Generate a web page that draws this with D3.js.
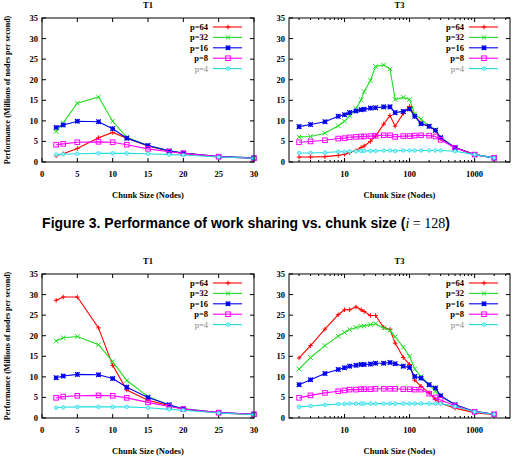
<!DOCTYPE html>
<html>
<head>
<meta charset="utf-8">
<script src="https://cdn.jsdelivr.net/npm/d3@7"></script>
<style>
  body { margin: 0; background: #fff; }
  svg { display: block; }
  .tick-label { font-family: "Liberation Serif", serif; font-size: 8.5px; font-weight: bold; fill: #000; }
  .axis-title { font-family: "Liberation Serif", serif; font-size: 8.5px; font-weight: bold; fill: #000; }
  .caption { font-family: "Liberation Sans", Arial, sans-serif; font-size: 14px; font-weight: bold; fill: #000; }
</style>
</head>
<body>
<div id="app"></div>
<script>
'use strict'

// series names, in legend order
const seriesLabels = ['p=64', 'p=32', 'p=16', 'p=8', 'p=4'];
const seriesColors = ['#ff0000', '#22dd22', '#0000ee', '#ff00ff', '#22dddd'];

// chunk sizes used by the two trees
const t1Chunks = [2, 3, 5, 8, 10, 12, 15, 18, 20, 25, 30];
const t3Chunks = [2, 3, 5, 8, 10, 12, 15, 18, 20, 25, 30, 40, 50, 60, 80, 100,
                  120, 150, 200, 250, 300, 500, 1000, 2000];

const yTicks = [0, 5, 10, 15, 20, 25, 30, 35];
const t1Ticks = [0, 5, 10, 15, 20, 25, 30];
const t3Ticks = [10, 100, 1000];

// upper row: work sharing, one row of values per series (p=64 .. p=4)
const upperT1 = [
  [1.5, 2.0, 3.3, 5.9, 7.2, 5.8, 3.9, 2.6, 2.1, 1.2, 0.9],
  [7.4, 9.5, 14.3, 15.8, 9.9, 6.0, 4.0, 2.7, 2.2, 1.3, 1.0],
  [8.4, 9.0, 9.9, 9.8, 8.1, 5.8, 4.0, 2.7, 2.2, 1.3, 1.0],
  [4.2, 4.4, 4.8, 4.9, 4.8, 4.2, 3.2, 2.5, 2.1, 1.3, 0.9],
  [1.8, 1.9, 2.0, 2.1, 2.1, 2.1, 2.0, 1.8, 1.7, 1.2, 0.9]
];
const upperT3 = [
  [1.2, 1.2, 1.3, 1.6, 1.9, 2.3, 2.8, 3.5, 3.9, 5.0, 6.3, 9.2, 11.3, 8.7, 11.8, 13.5,
   11.2, 9.5, 8.6, 7.7, 5.8, 3.5, 1.8, 1.0],
  [6.1, 6.2, 7.0, 8.8, 9.9, 11.2, 13.0, 15.1, 17.1, 19.8, 23.2, 23.6, 22.6, 15.2, 15.7, 15.2,
   11.7, 10.4, 8.7, 7.8, 6.0, 3.5, 1.8, 1.0],
  [8.6, 9.1, 9.8, 11.1, 11.5, 12.0, 12.4, 12.7, 12.8, 13.1, 13.2, 13.4, 13.4, 12.0, 12.3, 12.9,
   11.1, 9.3, 8.7, 7.7, 5.9, 3.5, 1.8, 1.0],
  [4.8, 5.0, 5.3, 5.7, 5.8, 6.0, 6.1, 6.2, 6.2, 6.3, 6.4, 6.5, 6.5, 6.1, 6.3, 6.3,
   6.4, 6.5, 6.4, 6.2, 5.4, 3.4, 1.8, 1.0],
  [2.2, 2.2, 2.3, 2.5, 2.5, 2.6, 2.6, 2.7, 2.7, 2.7, 2.7, 2.8, 2.8, 2.7, 2.8, 2.8,
   2.8, 2.8, 2.8, 2.8, 2.8, 2.6, 1.8, 1.0]
];

// lower row
const lowerT1 = [
  [28.6, 29.4, 29.4, 21.9, 12.8, 6.8, 4.3, 3.0, 2.2, 1.2, 0.8],
  [18.7, 19.5, 19.8, 17.8, 13.7, 9.1, 5.2, 3.1, 2.3, 1.3, 0.9],
  [9.8, 10.2, 10.6, 10.5, 9.6, 7.5, 5.0, 3.2, 2.2, 1.3, 0.9],
  [4.9, 5.2, 5.4, 5.5, 5.4, 4.9, 3.8, 2.8, 2.2, 1.3, 0.9],
  [2.5, 2.6, 2.7, 2.7, 2.7, 2.7, 2.5, 2.1, 1.9, 1.2, 0.8]
];
const lowerT3 = [
  [14.6, 17.6, 21.6, 25.1, 26.3, 26.3, 27.0, 26.3, 25.9, 24.9, 24.9, 22.0, 21.5, 18.2, 14.7, 13.0,
   9.2, 7.7, 6.1, 4.5, 3.6, 2.4, 1.3, 0.8],
  [11.9, 14.7, 17.6, 19.9, 20.8, 21.5, 22.0, 22.3, 22.4, 22.7, 22.9, 21.9, 21.3, 19.7, 17.2, 15.0,
   11.9, 10.1, 8.1, 6.5, 5.3, 3.2, 1.6, 0.9],
  [8.1, 9.3, 10.8, 11.8, 12.2, 12.6, 12.8, 13.0, 13.0, 13.1, 13.3, 13.3, 13.5, 13.2, 12.6, 12.3,
   10.1, 9.7, 8.1, 7.3, 5.4, 3.2, 1.6, 0.9],
  [4.9, 5.5, 6.1, 6.5, 6.7, 6.9, 6.9, 7.0, 7.0, 7.0, 7.1, 7.1, 7.1, 7.1, 7.0, 7.0,
   6.9, 6.9, 5.9, 5.0, 4.4, 3.0, 1.5, 0.9],
  [2.7, 2.9, 3.2, 3.4, 3.4, 3.5, 3.5, 3.5, 3.5, 3.5, 3.5, 3.5, 3.5, 3.5, 3.5, 3.5,
   3.5, 3.5, 3.5, 3.5, 3.5, 2.8, 1.5, 0.9]
];

const width = 513;
const height = 465;

const svg = d3.select('#app')
  .append('svg')
  .attr('width', width)
  .attr('height', height);

// one marker per series, gnuplot style
function drawMarker(g, k, cx, cy, color) {
  const s = 2.3;
  if (k == 0) {
    g.append('path').attr('d', `M${cx - s},${cy}H${cx + s}M${cx},${cy - s}V${cy + s}`)
      .attr('stroke', color).attr('stroke-width', 1);
  } else if (k == 1) {
    g.append('path').attr('d', `M${cx - s},${cy - s}L${cx + s},${cy + s}M${cx - s},${cy + s}L${cx + s},${cy - s}`)
      .attr('stroke', color).attr('stroke-width', 1);
  } else if (k == 2) {
    g.append('path').attr('d', `M${cx - s},${cy}H${cx + s}M${cx},${cy - s}V${cy + s}` +
                               `M${cx - s},${cy - s}L${cx + s},${cy + s}M${cx - s},${cy + s}L${cx + s},${cy - s}`)
      .attr('stroke', color).attr('stroke-width', 1.3);
  } else if (k == 3) {
    g.append('rect').attr('x', cx - s).attr('y', cy - s).attr('width', 2 * s).attr('height', 2 * s)
      .attr('fill', 'none').attr('stroke', color).attr('stroke-width', 1);
  } else {
    g.append('circle').attr('cx', cx).attr('cy', cy).attr('r', 1.8)
      .attr('fill', '#9ef').attr('stroke', color).attr('stroke-width', 0.7);
  }
}

function drawPanel({left, right, top, bottom, title, chunks, values, logX, ticks, yLabel}) {
  let x = logX
    ? d3.scaleLog().domain([1.4, 3500]).range([left, right])
    : d3.scaleLinear().domain([0, 30]).range([left, right]);
  let y = d3.scaleLinear().domain([0, 35]).range([bottom, top]);
  let g = svg.append('g');
  let cx = (left + right) / 2;

  // title
  g.append('text').attr('class', 'axis-title')
    .attr('x', cx).attr('y', top - 10)
    .attr('text-anchor', 'middle')
    .text(title);

  // y ticks, left and mirrored on the right
  yTicks.forEach((v) => {
    g.append('line').attr('x1', left).attr('x2', left + 4).attr('y1', y(v)).attr('y2', y(v)).attr('stroke', '#000');
    g.append('line').attr('x1', right).attr('x2', right - 4).attr('y1', y(v)).attr('y2', y(v)).attr('stroke', '#000');
    g.append('text').attr('class', 'tick-label')
      .attr('x', left - 4).attr('y', y(v) + 3)
      .attr('text-anchor', 'end').text(v);
  });

  // x ticks, bottom and mirrored on top
  let minor = [];
  if (logX) {
    for (let d = 1; d <= 1000; d *= 10) {
      for (let m = 2; m <= 9; m++) {
        let v = d * m;
        if (v >= 1.4 && v <= 3500) minor.push(v);
      }
    }
  }
  minor.forEach((v) => {
    g.append('line').attr('x1', x(v)).attr('x2', x(v)).attr('y1', bottom).attr('y2', bottom - 2).attr('stroke', '#000');
    g.append('line').attr('x1', x(v)).attr('x2', x(v)).attr('y1', top).attr('y2', top + 2).attr('stroke', '#000');
  });
  ticks.forEach((v) => {
    g.append('line').attr('x1', x(v)).attr('x2', x(v)).attr('y1', bottom).attr('y2', bottom - 4).attr('stroke', '#000');
    g.append('line').attr('x1', x(v)).attr('x2', x(v)).attr('y1', top).attr('y2', top + 4).attr('stroke', '#000');
    g.append('text').attr('class', 'tick-label')
      .attr('x', x(v)).attr('y', bottom + 15)
      .attr('text-anchor', 'middle').text(v);
  });

  g.append('text').attr('class', 'axis-title')
    .attr('x', cx).attr('y', bottom + 36)
    .attr('text-anchor', 'middle')
    .text('Chunk Size (Nodes)');

  if (yLabel) {
    g.append('text').attr('class', 'axis-title')
      .attr('transform', `translate(10, ${(top + bottom) / 2}) rotate(-90)`)
      .attr('text-anchor', 'middle')
      .style('font-size', '8px')
      .text('Performance (Millions of nodes per second)');
  }

  // series lines and markers
  let line = d3.line().x((d) => x(d[0])).y((d) => y(d[1]));
  values.forEach((row, k) => {
    let pts = chunks.map((c, i) => [c, row[i]]);
    g.append('path').attr('d', line(pts))
      .attr('fill', 'none').attr('stroke', seriesColors[k]).attr('stroke-width', 1.1);
    pts.forEach((p) => drawMarker(g, k, x(p[0]), y(p[1]), seriesColors[k]));
  });

  // legend
  seriesLabels.forEach((name, k) => {
    let ly = top + 9 + k * 10.4;
    let lx = right - 46;
    g.append('text').attr('class', 'tick-label')
      .attr('x', lx).attr('y', ly + 3)
      .attr('text-anchor', 'end')
      .style('fill', k == 4 ? '#888' : '#000')
      .style('font-weight', k == 4 ? 'normal' : 'bold')
      .text(name);
    g.append('line').attr('x1', lx + 5).attr('x2', lx + 34).attr('y1', ly).attr('y2', ly)
      .attr('stroke', seriesColors[k]).attr('stroke-width', 1.1);
    drawMarker(g, k, lx + 20, ly, seriesColors[k]);
  });

  // frame
  g.append('rect').attr('x', left).attr('y', top)
    .attr('width', right - left).attr('height', bottom - top)
    .attr('fill', 'none').attr('stroke', '#000').attr('stroke-width', 1);
}

drawPanel({left: 42, right: 254, top: 18, bottom: 162, title: 'T1',
           chunks: t1Chunks, values: upperT1, logX: false, ticks: t1Ticks, yLabel: true});
drawPanel({left: 289, right: 510, top: 18, bottom: 162, title: 'T3',
           chunks: t3Chunks, values: upperT3, logX: true, ticks: t3Ticks, yLabel: false});
drawPanel({left: 42, right: 254, top: 274, bottom: 418, title: 'T1',
           chunks: t1Chunks, values: lowerT1, logX: false, ticks: t1Ticks, yLabel: true});
drawPanel({left: 289, right: 510, top: 274, bottom: 418, title: 'T3',
           chunks: t3Chunks, values: lowerT3, logX: true, ticks: t3Ticks, yLabel: false});

// caption between the two rows
let caption = svg.append('text').attr('class', 'caption')
  .attr('x', 246).attr('y', 228)
  .attr('text-anchor', 'middle');
caption.append('tspan').text('Figure 3. Performance of work sharing vs. chunk size (');
caption.append('tspan')
  .style('font-family', '"Liberation Serif", serif').style('font-style', 'italic').style('font-weight', 'normal')
  .text('i');
caption.append('tspan')
  .style('font-family', '"Liberation Serif", serif').style('font-weight', 'normal')
  .text(' = 128');
caption.append('tspan').text(')');
</script>
</body>
</html>
